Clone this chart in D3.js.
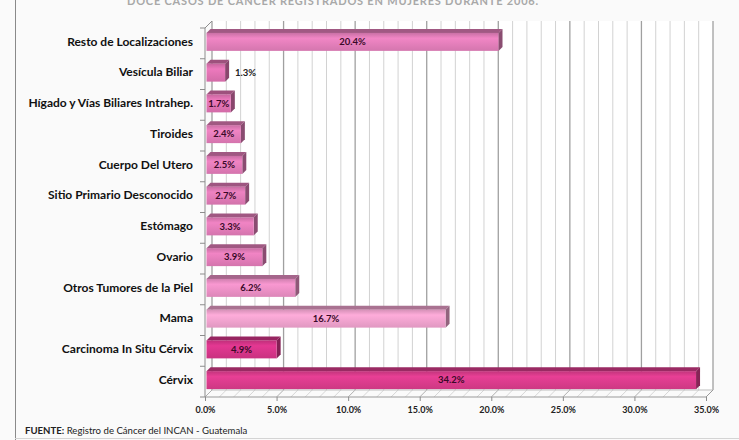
<!DOCTYPE html>
<html>
<head>
<meta charset="utf-8">
<script src="https://cdn.jsdelivr.net/npm/d3@7/dist/d3.min.js"></script>
<style>
  html, body { margin: 0; padding: 0; background: #fafafa; }
  svg { display: block; }
</style>
</head>
<body>
<svg id="chart" width="739" height="440"></svg>
<script>
// Cancer sites, top to bottom as drawn
const categories = [
  "Resto de Localizaciones",
  "Vesícula Biliar",
  "Hígado y Vías Biliares Intrahep.",
  "Tiroides",
  "Cuerpo Del Utero",
  "Sitio Primario Desconocido",
  "Estómago",
  "Ovario",
  "Otros Tumores de la Piel",
  "Mama",
  "Carcinoma In Situ Cérvix",
  "Cérvix"
];
// Percentage of cases per site
const values = [20.4, 1.3, 1.7, 2.4, 2.5, 2.7, 3.3, 3.9, 6.2, 16.7, 4.9, 34.2];
const xTicks = [0, 5, 10, 15, 20, 25, 30, 35];
const titleText = "DOCE CASOS DE CÁNCER REGISTRADOS EN MUJERES DURANTE 2006.";
const sourceLabel = "FUENTE:";
const sourceText = " Registro de Cáncer del INCAN - Guatemala";

// Face colours for each bar
const barColors = ["#e47fbb", "#e173b3", "#e173b3", "#e47dba", "#e47dba", "#e27bb8",
                   "#e47dba", "#e47dba", "#ec90c6", "#f1a3cf", "#d8358a", "#dc3c8d"];

const svg = d3.select("#chart");
const font = "Lato, 'Liberation Sans', sans-serif";

// Plot frame (front plane) and 3D wall depth
const pLeft = 205, pRight = 706, pTop = 28, pBottom = 397;
const depth = 7;

const x = d3.scaleLinear().domain([0, 35]).range([pLeft, pRight]);
const y = d3.scaleBand().domain(categories).range([pTop, pBottom]).paddingInner(0).paddingOuter(0);

// outer frame lines
svg.append("line").attr("x1", 15.5).attr("x2", 15.5).attr("y1", 0).attr("y2", 440)
  .attr("stroke", "#8a8a8a").attr("stroke-width", 1);
svg.append("line").attr("x1", 15).attr("x2", 739).attr("y1", 438.5).attr("y2", 438.5)
  .attr("stroke", "#d4d4d4").attr("stroke-width", 1);

// title, mostly cut off at the top edge
svg.append("text").attr("x", 333).attr("y", 5)
  .attr("text-anchor", "middle")
  .attr("font-family", font).attr("font-weight", "bold").attr("font-size", 11)
  .attr("letter-spacing", 0.8)
  .attr("fill", "#a8a8a8")
  .text(titleText);

// back wall
const g = svg.append("g");
g.append("rect")
  .attr("x", pLeft + depth).attr("y", pTop - depth)
  .attr("width", pRight - pLeft).attr("height", pBottom - pTop)
  .attr("fill", "#ffffff");

// minor and major gridlines on back wall + floor
const minor = d3.range(0, 36, 1);
g.selectAll("line.grid").data(minor).join("line")
  .attr("class", "grid")
  .attr("x1", d => x(d) + depth).attr("x2", d => x(d) + depth)
  .attr("y1", pTop - depth).attr("y2", pBottom - depth)
  .attr("stroke", d => d % 5 === 0 ? "#a0a0a0" : "#d2d2d2")
  .attr("stroke-width", d => d % 5 === 0 ? 1.3 : 1);

g.selectAll("line.floor").data(minor).join("line")
  .attr("class", "floor")
  .attr("x1", d => x(d) + depth).attr("y1", pBottom - depth)
  .attr("x2", d => x(d)).attr("y2", pBottom)
  .attr("stroke", d => d % 5 === 0 ? "#b0b0b0" : "#d6d6d6");

// floor edges
g.append("line").attr("x1", pLeft + depth).attr("x2", pRight + depth)
  .attr("y1", pBottom - depth).attr("y2", pBottom - depth).attr("stroke", "#bdbdbd");
g.append("line").attr("x1", pLeft).attr("x2", pRight)
  .attr("y1", pBottom).attr("y2", pBottom).attr("stroke", "#9a9a9a");
g.append("line").attr("x1", pRight).attr("y1", pBottom)
  .attr("x2", pRight + depth).attr("y2", pBottom - depth).attr("stroke", "#9a9a9a");

// left (category) axis with slanted top
g.append("line").attr("x1", pLeft).attr("x2", pLeft).attr("y1", pTop).attr("y2", pBottom)
  .attr("stroke", "#8c8c8c");
g.append("line").attr("x1", pLeft).attr("y1", pTop).attr("x2", pLeft + depth).attr("y2", pTop - depth)
  .attr("stroke", "#8c8c8c");
const bounds = categories.map(c => y(c)).concat([pBottom]);
g.selectAll("line.ctick").data(bounds).join("line")
  .attr("class", "ctick")
  .attr("x1", pLeft - 5).attr("x2", pLeft)
  .attr("y1", d => d).attr("y2", d => d)
  .attr("stroke", "#8c8c8c");

// value axis ticks and labels
const xAxis = d3.axisBottom(x).tickValues(xTicks).tickSize(4).tickFormat(d => d.toFixed(1) + "%");
const ax = svg.append("g").attr("transform", `translate(0,${pBottom})`).call(xAxis);
ax.select(".domain").remove();
ax.selectAll(".tick line").attr("stroke", "#8c8c8c");
ax.selectAll(".tick text")
  .attr("dy", "0.95em")
  .attr("font-family", font).attr("font-weight", "bold").attr("font-size", 9)
  .attr("fill", "#222");

// category labels
svg.selectAll("text.cat").data(categories).join("text")
  .attr("class", "cat")
  .attr("x", 193)
  .attr("y", d => y(d) + y.bandwidth() / 2 - 2)
  .attr("dy", "0.35em")
  .attr("text-anchor", "end")
  .attr("font-family", font).attr("font-weight", "bold").attr("font-size", 12)
  .attr("fill", "#111")
  .text(d => d);

// 3D bars
const defs = svg.append("defs");
barColors.forEach((c, i) => {
  const grad = defs.append("linearGradient").attr("id", "bg" + i)
    .attr("x1", 0).attr("x2", 0).attr("y1", 0).attr("y2", 1);
  const base = d3.color(c);
  grad.append("stop").attr("offset", "0%").attr("stop-color", base.darker(0.35));
  grad.append("stop").attr("offset", "30%").attr("stop-color", base.brighter(0.15));
  grad.append("stop").attr("offset", "100%").attr("stop-color", base.darker(0.2));
});

const bd = 4;          // bar depth
const off = 1.5;       // bar set back from the front plane
const bh = 18;         // front-face height
const bars = svg.append("g");
categories.forEach((cat, i) => {
  const v = values[i];
  const x0 = x(0) + off, x1 = x(v) + off;
  const yc = y(cat) + y.bandwidth() / 2 - 2 - off;
  const yt = yc - bh / 2 + bd / 2, yb = yc + bh / 2 + bd / 2;
  const base = d3.color(barColors[i]);
  // top face
  bars.append("polygon")
    .attr("points", [[x0, yt], [x0 + bd, yt - bd], [x1 + bd, yt - bd], [x1, yt]].join(" "))
    .attr("fill", base.darker(1.0));
  // end face
  bars.append("polygon")
    .attr("points", [[x1, yt], [x1 + bd, yt - bd], [x1 + bd, yb - bd], [x1, yb]].join(" "))
    .attr("fill", base.darker(1.4));
  // front face
  bars.append("rect")
    .attr("x", x0).attr("y", yt).attr("width", x1 - x0).attr("height", yb - yt)
    .attr("fill", `url(#bg${i})`);
  // value label
  const inside = (x1 - x0) > 22;
  bars.append("text")
    .attr("x", inside ? (x0 + x1) / 2 : x1 + bd + 6)
    .attr("y", (yt + yb) / 2)
    .attr("dy", "0.35em")
    .attr("text-anchor", inside ? "middle" : "start")
    .attr("font-family", font).attr("font-weight", "bold").attr("font-size", 9.5)
    .attr("fill", inside ? "#3a0a28" : "#222")
    .text(v.toFixed(1) + "%");
});

// source note
const src = svg.append("text").attr("x", 25).attr("y", 434)
  .attr("font-family", font).attr("font-size", 9.6).attr("fill", "#222");
src.append("tspan").attr("font-weight", "bold").text(sourceLabel);
src.append("tspan").text(sourceText);
</script>
</body>
</html>
